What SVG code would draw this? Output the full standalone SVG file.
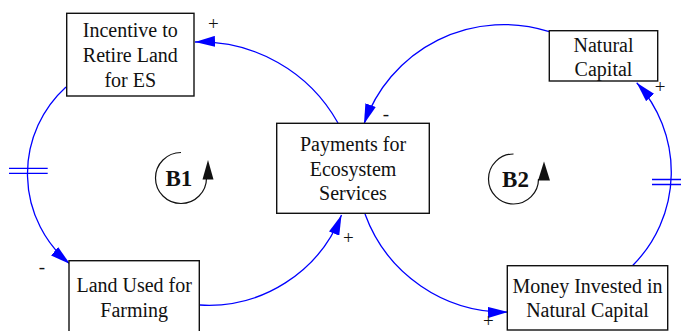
<svg xmlns="http://www.w3.org/2000/svg" width="681" height="331" viewBox="0 0 681 331" font-family="'Liberation Serif', Tinos, 'DejaVu Serif', serif">
<style>
text{font-family:"Liberation Serif",Tinos,"DejaVu Serif",serif;fill:#111}
.node rect{fill:#fff;stroke:#111;stroke-width:1.4}
.node text{font-size:20px;text-anchor:middle}
.link{fill:none;stroke:#0000ff;stroke-width:1.3;marker-end:url(#ah)}
.delay{stroke:#0000ff;stroke-width:1.3}
.pol{font-size:19px;text-anchor:middle}
.loop path{fill:none;stroke:#111;stroke-width:1.2}
.loop polygon{fill:#111}
.loop text{font-size:23px;font-weight:bold;text-anchor:middle}
</style>
<defs>
<marker id="ah" viewBox="0 0 20 11" refX="20" refY="5.5" markerWidth="20" markerHeight="11" markerUnits="userSpaceOnUse" orient="auto">
<path d="M0,0 L20,5.5 L0,11 z" fill="#0000ff"/>
</marker>
</defs>
<rect width="681" height="331" fill="#fff"/>
<g id="connectors">
<path class="link" d="M338,123 A158,158 0 0 0 195,42"/>
<path class="link" d="M66,87 A117,117 0 0 0 70,264"/>
<path class="link" d="M200,305 A143,143 0 0 0 341.5,215"/>
<path class="link" d="M365,214 A149,149 0 0 0 508,312"/>
<path class="link" d="M632.7,265.5 A132.6,132.6 0 0 0 636.7,82.7"/>
<path class="link" d="M549.3,31.7 A148,148 0 0 0 364,124"/>
<line class="delay" x1="9" y1="168.3" x2="47.7" y2="168.3"/>
<line class="delay" x1="9" y1="173.3" x2="47.7" y2="173.3"/>
<line class="delay" x1="652" y1="179.5" x2="690" y2="179.5"/>
<line class="delay" x1="652" y1="184.5" x2="690" y2="184.5"/>
<text class="pol" x="213.3" y="29.8">+</text>
<text class="pol" x="42" y="273.3">-</text>
<text class="pol" x="348.3" y="244">+</text>
<text class="pol" x="488.3" y="327">+</text>
<text class="pol" x="660" y="92.5">+</text>
<text class="pol" x="386" y="120.3">-</text>
</g>
<g id="incentive" class="node">
<rect x="66.7" y="13.3" width="127.3" height="82.7"/>
<text x="130.3" y="37">Incentive to</text>
<text x="130.3" y="62">Retire Land</text>
<text x="130.3" y="86.7">for ES</text>
</g>
<g id="payments" class="node">
<rect x="276.7" y="123.3" width="152.6" height="90"/>
<text x="353" y="150.7">Payments for</text>
<text x="353" y="175.7">Ecosystem</text>
<text x="353" y="200">Services</text>
</g>
<g id="land" class="node">
<rect x="69" y="260.7" width="130.3" height="90"/>
<text x="134.2" y="291.7">Land Used for</text>
<text x="134.2" y="316.7">Farming</text>
</g>
<g id="natural" class="node">
<rect x="549.3" y="30.7" width="108.4" height="50.3"/>
<text x="603.5" y="52.3">Natural</text>
<text x="603.5" y="76.3">Capital</text>
</g>
<g id="money" class="node">
<rect x="507.3" y="265.7" width="160.4" height="64.3"/>
<text x="587.5" y="293.3">Money Invested in</text>
<text x="587.5" y="317.3">Natural Capital</text>
</g>
<g id="B1" class="loop">
<path d="M181,152.5 A25.5,25.5 0 1 0 206.5,178"/>
<polygon points="202.5,179.5 213.5,179.5 208,160"/>
<text x="178.9" y="185.7">B1</text>
</g>
<g id="B2" class="loop">
<path d="M513.5,154 A25,25 0 1 0 538.5,179"/>
<polygon points="538,180.5 550,180.5 544,161.5"/>
<text x="515.5" y="187.3">B2</text>
</g>
</svg>
